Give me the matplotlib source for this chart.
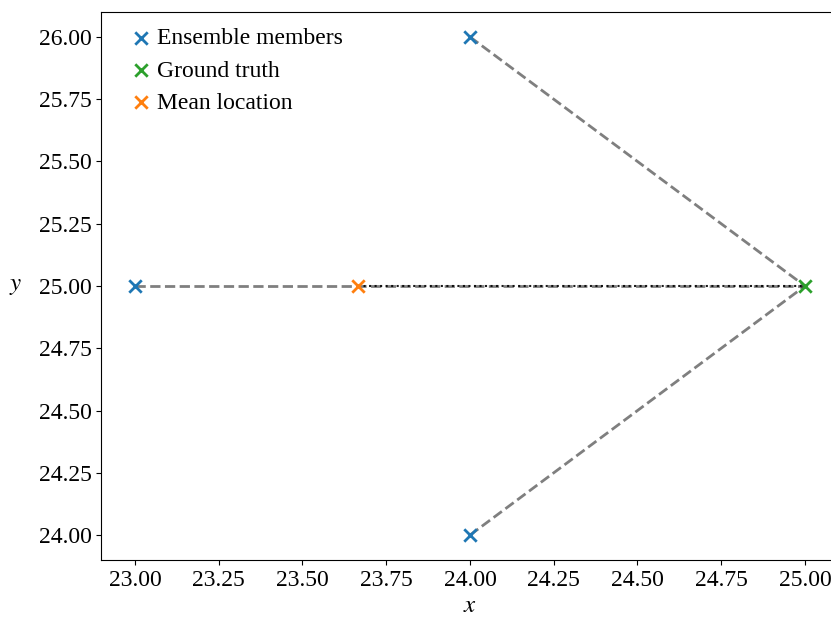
import numpy as np
import matplotlib
matplotlib.use("Agg")
import matplotlib.pyplot as plt

plt.rcParams['font.family'] = ['Liberation Serif', 'DejaVu Serif']
plt.rcParams['mathtext.fontset'] = 'stix'

# ensemble members, ground truth and mean location
member_x = [23.0, 24.0, 24.0]
member_y = [25.0, 26.0, 24.0]
truth_x = [25.0]
truth_y = [25.0]
mean_x = [23.667]
mean_y = [25.0]

fig = plt.figure(figsize=(8.31, 6.19), dpi=100)
ax = fig.add_axes([0.1221, 0.0953, 0.8869, 0.8853])

for mx, my in zip(member_x, member_y):
    ax.plot([mx, truth_x[0]], [my, truth_y[0]], color='k', alpha=0.5,
            linestyle='--', linewidth=2, zorder=1)
ax.plot([mean_x[0], truth_x[0]], [mean_y[0], truth_y[0]], color='k',
        linestyle=':', linewidth=1.5, alpha=0.9, zorder=1)

ax.scatter(member_x, member_y, marker='x', s=80, linewidths=2, color='C0',
           label='Ensemble members', zorder=3)
ax.scatter(truth_x, truth_y, marker='x', s=80, linewidths=2, color='C2',
           label='Ground truth', zorder=3)
ax.scatter(mean_x, mean_y, marker='x', s=80, linewidths=2, color='C1',
           label='Mean location', zorder=3)

ax.set_xlim(22.9, 25.1)
ax.set_ylim(23.9, 26.1)
ax.set_xticks(np.arange(23.0, 25.01, 0.25))
ax.set_yticks(np.arange(24.0, 26.01, 0.25))
ax.xaxis.set_major_formatter(matplotlib.ticker.FormatStrFormatter('%.2f'))
ax.yaxis.set_major_formatter(matplotlib.ticker.FormatStrFormatter('%.2f'))
ax.tick_params(labelsize=17)
ax.spines['right'].set_visible(False)  # falls off the canvas in the original
ax.set_xlabel('$x$', fontsize=18, labelpad=3)
ax.set_ylabel('$y$', fontsize=18, rotation=0, va='center', labelpad=17)

ax.legend(loc='upper left', frameon=False, fontsize=17, handletextpad=-0.3,
          borderaxespad=0.27, labelspacing=0.45)

plt.savefig("out.png", dpi=100)
